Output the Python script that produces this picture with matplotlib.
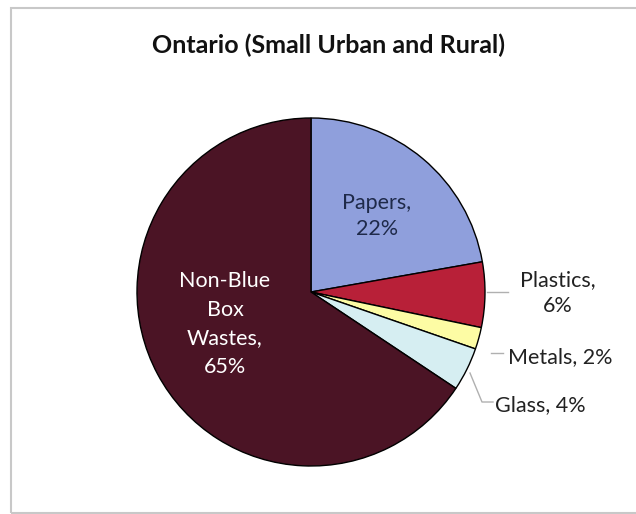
import numpy as np
import matplotlib.pyplot as plt
from matplotlib.patches import Rectangle

# Ontario (Small Urban and Rural) blue box composition
labels = ['Papers', 'Plastics', 'Metals', 'Glass', 'Non-Blue\nBox\nWastes']
values = [22, 6, 2, 4, 65]
colors = ['#8f9fdc', '#b82038', '#fdfca4', '#d6eef2', '#4b1425']

plt.rcParams['font.family'] = ['Lato', 'DejaVu Sans']

fig = plt.figure(figsize=(6.36, 5.14), dpi=100)
ax = fig.add_axes([0, 0, 1, 1])

# pie drawn in pixel-like coords (y up)
wedges, _ = ax.pie(values, colors=colors, startangle=90, counterclock=False,
                   center=(311, 222), radius=174,
                   wedgeprops=dict(edgecolor='black', linewidth=1.0))
ax.set_xlim(0, 636)
ax.set_ylim(0, 514)
ax.set_aspect('equal')
ax.axis('off')

# chart frame
ax.add_patch(Rectangle((11, 1), 640, 505, fill=False, edgecolor='#c8c8c8', lw=1.5))

ax.text(328, 469, 'Ontario (Small Urban and Rural)', ha='center', va='center',
        fontsize=18, fontweight='bold', color='#111111')

fs = 15.5
# inside labels
ax.text(377, 298, f'{labels[0]},\n{values[0]}%', ha='center', va='center',
        fontsize=fs, color='#1f2a4a', linespacing=1.4)
ax.text(225, 190, 'Non-Blue\nBox\nWastes,\n65%', ha='center', va='center',
        fontsize=fs, color='white', linespacing=1.55)

# outside labels with leader lines
lc = '#b0b0b0'
tc = '#222222'
ax.text(558, 221, f'{labels[1]},\n{values[1]}%', ha='center', va='center',
        fontsize=fs, color=tc, linespacing=1.4)
ax.plot([487, 508], [222, 222], color=lc, lw=1)

ax.text(508, 157, f'{labels[2]}, {values[2]}%', ha='left', va='center',
        fontsize=fs, color=tc)
ax.plot([491, 503], [161, 161], color=lc, lw=1)

ax.text(495, 109, f'{labels[3]}, {values[3]}%', ha='left', va='center',
        fontsize=fs, color=tc)
ax.plot([470, 482, 493], [141, 112, 112], color=lc, lw=1)

fig.savefig('out.png', dpi=100)
